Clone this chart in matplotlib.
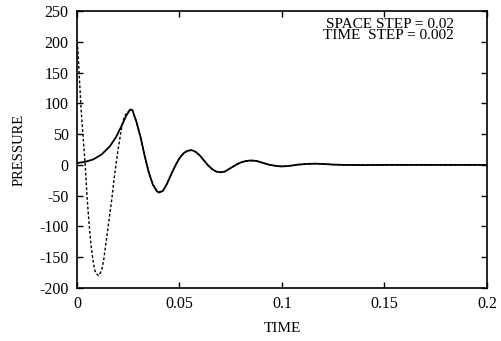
import matplotlib
matplotlib.use("Agg")
import matplotlib.pyplot as plt

# Solid curve (time, pressure)
solid_t = [0.000, 0.004, 0.008, 0.012, 0.016, 0.019, 0.022, 0.024, 0.026, 0.027,
           0.029, 0.031, 0.033, 0.035, 0.037, 0.039, 0.040, 0.042, 0.044, 0.046,
           0.048, 0.050, 0.052, 0.054, 0.056, 0.058, 0.060, 0.062, 0.064, 0.066,
           0.068, 0.070, 0.072, 0.074, 0.076, 0.078, 0.080, 0.082, 0.084, 0.086,
           0.088, 0.090, 0.092, 0.094, 0.096, 0.098, 0.100, 0.102, 0.105, 0.108,
           0.112, 0.116, 0.120, 0.125, 0.130, 0.140, 0.150, 0.200]
solid_p = [3, 5, 9, 17, 30, 45, 65, 80, 90, 89,
           70, 45, 15, -12, -32, -43, -45, -42, -30, -15,
           -1, 11, 19, 23, 24, 21, 15, 7, -1, -7,
           -11, -12, -11, -7, -3, 1, 4, 6, 7, 7,
           6, 4, 2, 0, -1, -2, -2.5, -2, -1, 0.5,
           1.5, 2, 1.5, 0.5, 0, -0.3, 0, 0]

# Dashed curve (time, pressure)
dashed_t = [0.0000, 0.0005, 0.0010, 0.0020, 0.0030, 0.0040, 0.0050, 0.0060, 0.0070,
            0.0080, 0.0090, 0.0105, 0.0120, 0.0130, 0.0140, 0.0150, 0.0160, 0.0170,
            0.0180, 0.0190, 0.0200, 0.0210, 0.0220, 0.0230, 0.0240, 0.0260, 0.0270,
            0.029, 0.031, 0.033, 0.035, 0.037, 0.039, 0.0405, 0.042, 0.044, 0.046,
            0.048, 0.050, 0.052, 0.054, 0.056, 0.058, 0.060, 0.062, 0.064, 0.066,
            0.068, 0.070, 0.072, 0.074, 0.076, 0.078, 0.080, 0.082, 0.084, 0.086,
            0.088, 0.090, 0.092, 0.094, 0.096, 0.098, 0.100, 0.102, 0.105, 0.108,
            0.112, 0.116, 0.120, 0.125, 0.130, 0.140, 0.150, 0.200]
dashed_p = [200, 185, 150, 90, 45, 0, -57, -100, -135,
            -160, -175, -180, -172, -155, -130, -105, -80, -55,
            -25, 0, 24, 45, 65, 77, 83, 90, 89,
            70, 45, 15, -12, -32, -42, -44, -41, -30, -15,
            -1, 11, 19, 23, 24, 21, 15, 7, -1, -7,
            -11, -12, -11, -7, -3, 1, 4, 6, 7, 7,
            6, 4, 2, 0, -1, -2, -2.5, -2, -1, 0.5,
            1.5, 2, 1.5, 0.5, 0, -0.3, 0, 0]

x_ticks = [0, 0.05, 0.1, 0.15, 0.2]
x_tick_labels = ["0", "0.05", "0.1", "0.15", "0.2"]
y_ticks = [-200, -150, -100, -50, 0, 50, 100, 150, 200, 250]

plt.rcParams['font.family'] = ['Liberation Serif', 'DejaVu Serif']
plt.rcParams['axes.unicode_minus'] = False

fig = plt.figure(figsize=(5.01, 3.41), dpi=100)
ax = fig.add_axes([0.1537, 0.1554, 0.8183, 0.8123])

ax.plot(solid_t, solid_p, color='black', lw=1.3, solid_joinstyle='round')
ax.plot(dashed_t, dashed_p, color='black', lw=1.0, linestyle=(0, (2, 1.5)))

ax.set_xlim(0, 0.2)
ax.set_ylim(-200, 250)
ax.set_xticks(x_ticks)
ax.set_xticklabels(x_tick_labels)
ax.set_yticks(y_ticks)
ax.tick_params(direction='in', top=True, right=True, length=4, width=1,
               labelsize=11.5, pad=6)
for s in ax.spines.values():
    s.set_linewidth(1.2)

ax.set_xlabel("TIME", fontsize=11, labelpad=7)
ax.set_ylabel("PRESSURE", fontsize=10.5, labelpad=10)

ax.text(0.92, 0.975, "SPACE STEP = 0.02\nTIME  STEP = 0.002", transform=ax.transAxes,
        ha='right', va='top', fontsize=11, linespacing=0.8)

fig.savefig("out.png", dpi=100)
